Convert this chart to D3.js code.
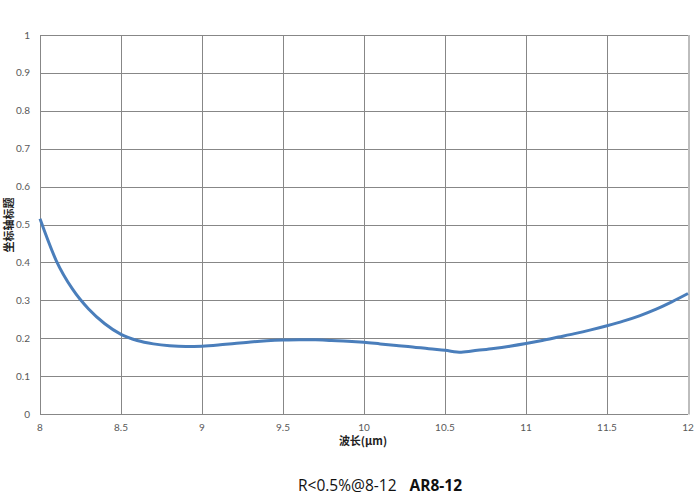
<!DOCTYPE html>
<html><head><meta charset="utf-8">
<script src="https://cdn.jsdelivr.net/npm/d3@7"></script>
<style>body{margin:0;background:#fff}svg{display:block}</style>
</head><body><svg id="c" width="700" height="500"></svg>
<script>
const wavelengths = [8.0,8.1,8.2,8.3,8.4,8.5,8.6,8.7,8.8,8.9,9.0,9.1,9.2,9.3,9.4,9.5,9.6,9.7,9.8,9.9,10.0,10.1,10.2,10.3,10.4,10.5,10.6,10.7,10.8,10.9,11.0,11.1,11.2,11.3,11.4,11.5,11.6,11.7,11.8,11.9,12.0];
const reflectance = [0.515,0.405,0.330,0.277,0.238,0.210,0.194,0.185,0.180,0.178,0.179,0.182,0.186,0.190,0.193,0.195,0.196,0.196,0.194,0.192,0.189,0.185,0.181,0.177,0.172,0.168,0.163,0.168,0.173,0.179,0.186,0.194,0.203,0.212,0.222,0.233,0.245,0.259,0.276,0.296,0.318];
const xTicks = [8,8.5,9,9.5,10,10.5,11,11.5,12];
const yTicks = [0,0.1,0.2,0.3,0.4,0.5,0.6,0.7,0.8,0.9,1];
const yTitle = "坐标轴标题";
const xTitle = "波长(μm)";
const caption1 = "R<0.5%@8-12";
const caption2 = "AR8-12";

const svg = d3.select("#c");
const L=40,R=688,T=35,B=414;
const x = d3.scaleLinear().domain([8,12]).range([L,R]);
const y = d3.scaleLinear().domain([0,1]).range([B,T]);
const font = "Lato, 'Open Sans', sans-serif";

// gridlines
svg.append("g").selectAll("line").data(yTicks).join("line")
  .attr("x1",L).attr("x2",R).attr("y1",d=>Math.round(y(d))+0.5).attr("y2",d=>Math.round(y(d))+0.5)
  .attr("stroke","#878787").attr("stroke-width",1);
svg.append("g").selectAll("line").data(xTicks).join("line")
  .attr("y1",T).attr("y2",B).attr("x1",d=>Math.round(x(d))+0.5).attr("x2",d=>Math.round(x(d))+0.5)
  .attr("stroke","#878787").attr("stroke-width",1);
// right border
svg.append("line").attr("x1",R+1).attr("x2",R+1).attr("y1",T).attr("y2",B+0.5).attr("stroke","#bdbdbd").attr("stroke-width",2);

// tick labels
svg.append("g").selectAll("text").data(yTicks).join("text")
  .attr("x",30).attr("y",d=>y(d)+3.5).attr("text-anchor","end")
  .attr("font-family",font).attr("font-size",10).attr("fill","#595959").text(d=>d);
svg.append("g").selectAll("text").data(xTicks).join("text")
  .attr("x",d=>x(d)).attr("y",431).attr("text-anchor","middle")
  .attr("font-family",font).attr("font-size",10).attr("fill","#595959").text(d=>d);

// line
const data = wavelengths.map((w,i)=>[w,reflectance[i]]);
svg.append("path").datum(data)
  .attr("d", d3.line().x(d=>x(d[0])).y(d=>y(d[1])).curve(d3.curveMonotoneX))
  .attr("fill","none").attr("stroke","#4a7ebb").attr("stroke-width",3).attr("stroke-linejoin","round");

// titles
svg.append("text").attr("transform","translate(13,225) rotate(-90)").attr("text-anchor","middle")
  .attr("font-family","'Noto Sans CJK SC', sans-serif").attr("font-weight","bold").attr("font-size",11).attr("fill","#222").text(yTitle);
svg.append("text").attr("x",363).attr("y",445).attr("text-anchor","middle")
  .attr("font-family","'Noto Sans CJK SC', sans-serif").attr("font-weight","bold").attr("font-size",11).attr("fill","#222").text(xTitle);

const cap = svg.append("text").attr("x",298).attr("y",491).attr("text-anchor","start")
  .attr("font-family","'Open Sans', sans-serif").attr("font-size",15.5).attr("fill","#111");
cap.append("tspan").text(caption1);
cap.append("tspan").attr("dx",13).attr("font-weight","bold").text(caption2);
</script></body></html>
